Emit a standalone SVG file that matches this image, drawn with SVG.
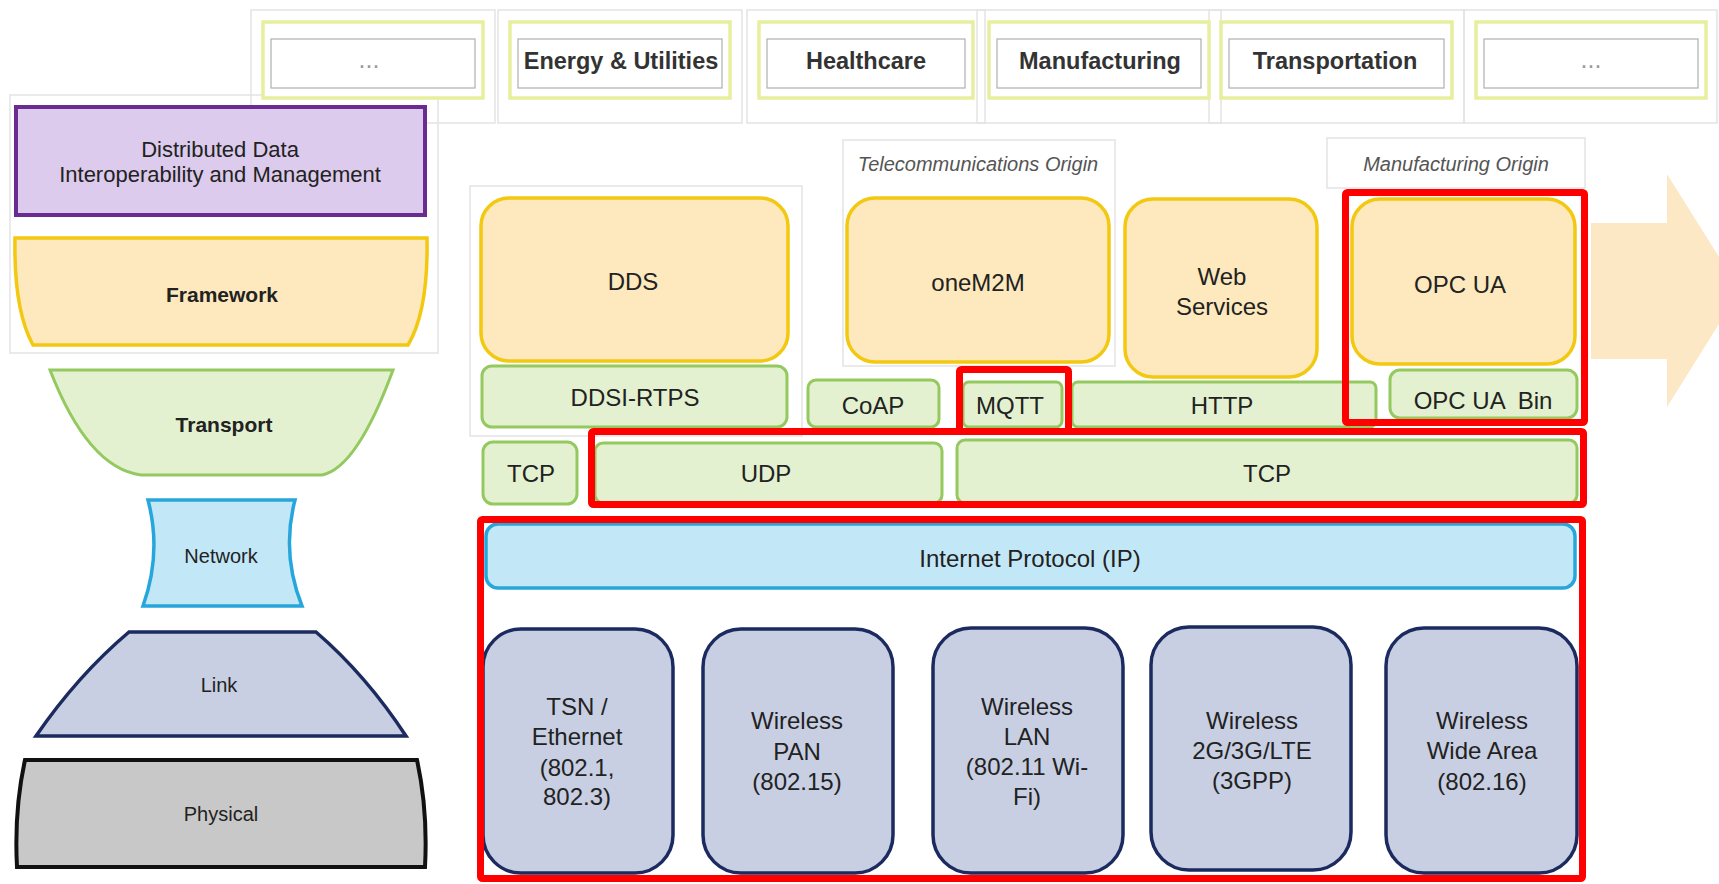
<svg xmlns="http://www.w3.org/2000/svg" width="1719" height="884" viewBox="0 0 1719 884">
  <defs>
    <style>
      text { font-family: "Liberation Sans", Arial, sans-serif; fill: #222222; text-anchor: middle; }
      .frame { fill: none; stroke: #e3e3e3; stroke-width: 1.5; }
      .ind-outer { fill: #ffffff; stroke: #e7ee9e; stroke-width: 3.5; }
      .ind-inner { fill: #ffffff; stroke: #b0b0b0; stroke-width: 1.2; }
      .ind-text { font-size: 23.5px; font-weight: bold; fill: #333333; }
      .dots { font-size: 25px; fill: #9a9a9a; }
      .fw { fill: #fde9bd; stroke: #f2c811; stroke-width: 3.5; }
      .tp { fill: #e3f1d0; stroke: #93c95e; stroke-width: 3; }
      .ip { fill: #c2e8f8; stroke: #27a6dc; stroke-width: 3.5; }
      .lk { fill: #c8cfe3; stroke: #1c2b5f; stroke-width: 3.5; }
      .lbl { font-size: 24px; }
      .sm { font-size: 22px; }
      .origin { font-size: 20px; font-style: italic; fill: #555555; }
      .hl { fill: none; stroke: #ff0000; stroke-width: 7; }
    </style>
  </defs>

  <rect width="1719" height="884" fill="#ffffff"/>

  <!-- faint grouping outlines -->
  <g id="outlines">
    <rect class="frame" x="251" y="10" width="244" height="113"/>
    <rect class="frame" x="498" y="10" width="244" height="113"/>
    <rect class="frame" x="747" y="10" width="238" height="113"/>
    <rect class="frame" x="977" y="10" width="244" height="113"/>
    <rect class="frame" x="1209" y="10" width="255" height="113"/>
    <rect class="frame" x="1464" y="10" width="253" height="113"/>
    <rect class="frame" x="10" y="95" width="428" height="258"/>
    <rect class="frame" x="470" y="186" width="332" height="250"/>
    <rect class="frame" x="843" y="140" width="272" height="226"/>
    <rect class="frame" x="1327" y="138" width="258" height="50"/>
  </g>

  <!-- industry verticals -->
  <g id="industries">
    <g id="ind-more-left">
      <rect class="ind-outer" x="263" y="22" width="220" height="76"/>
      <rect class="ind-inner" x="271" y="39" width="204" height="49"/>
      <text class="dots" x="369" y="68">...</text>
    </g>
    <g id="ind-energy">
      <rect class="ind-outer" x="510" y="22" width="220" height="76"/>
      <rect class="ind-inner" x="518" y="39" width="204" height="49"/>
      <text class="ind-text" x="621" y="69">Energy &amp; Utilities</text>
    </g>
    <g id="ind-healthcare">
      <rect class="ind-outer" x="759" y="22" width="214" height="76"/>
      <rect class="ind-inner" x="767" y="39" width="198" height="49"/>
      <text class="ind-text" x="866" y="69">Healthcare</text>
    </g>
    <g id="ind-manufacturing">
      <rect class="ind-outer" x="989" y="22" width="220" height="76"/>
      <rect class="ind-inner" x="997" y="39" width="204" height="49"/>
      <text class="ind-text" x="1100" y="69">Manufacturing</text>
    </g>
    <g id="ind-transportation">
      <rect class="ind-outer" x="1221" y="22" width="231" height="76"/>
      <rect class="ind-inner" x="1229" y="39" width="215" height="49"/>
      <text class="ind-text" x="1335" y="69">Transportation</text>
    </g>
    <g id="ind-more-right">
      <rect class="ind-outer" x="1476" y="22" width="230" height="76"/>
      <rect class="ind-inner" x="1484" y="39" width="214" height="49"/>
      <text class="dots" x="1591" y="68">...</text>
    </g>
  </g>

  <!-- generic layer stack (left) -->
  <g id="layer-dist-data">
    <rect x="16" y="107" width="409" height="108" fill="#dccbec" stroke="#6b2c91" stroke-width="4"/>
    <text class="sm" x="220" y="157">Distributed Data</text>
    <text class="sm" x="220" y="182">Interoperability and Management</text>
  </g>
  <g id="layer-framework">
    <path class="fw" d="M15,238 H427 C428,290 420,325 408,345 H33 C22,325 14,290 15,238 Z" stroke-width="4"/>
    <text x="222" y="302" font-size="21" font-weight="bold">Framework</text>
  </g>
  <g id="layer-transport">
    <path class="tp" d="M50,370 H393 Q357,468 322,475 H141 Q88,468 50,370 Z"/>
    <text x="224" y="432" font-size="21" font-weight="bold">Transport</text>
  </g>
  <g id="layer-network">
    <path class="ip" d="M148,500 H295 Q281,553 302,606 H143 Q162,553 148,500 Z"/>
    <text x="221" y="563" font-size="20">Network</text>
  </g>
  <g id="layer-link">
    <path class="lk" d="M129,632 H316 Q366,675 406,736 H36 Q78,675 129,632 Z"/>
    <text x="219" y="692" font-size="20">Link</text>
  </g>
  <g id="layer-physical">
    <path d="M25,760 H417 Q428,810 425,867 H17 Q14,810 25,760 Z" fill="#c8c8c8" stroke="#111111" stroke-width="4"/>
    <text x="221" y="821" font-size="20">Physical</text>
  </g>

  <!-- origin captions -->
  <g id="caption-telecom">
    <text class="origin" x="978" y="171">Telecommunications Origin</text>
  </g>
  <g id="caption-manufacturing">
    <text class="origin" x="1456" y="171">Manufacturing Origin</text>
  </g>

  <!-- framework standards -->
  <g id="dds">
    <rect class="fw" x="481" y="198" width="307" height="163" rx="28"/>
    <text class="lbl" x="633" y="290">DDS</text>
  </g>
  <g id="onem2m">
    <rect class="fw" x="847" y="198" width="262" height="164" rx="28"/>
    <text class="lbl" x="978" y="291">oneM2M</text>
  </g>
  <g id="web-services">
    <rect class="fw" x="1125" y="199" width="192" height="178" rx="28"/>
    <text class="lbl" x="1222" y="285">Web</text>
    <text class="lbl" x="1222" y="315">Services</text>
  </g>
  <g id="opc-ua">
    <rect class="fw" x="1352" y="199" width="223" height="165" rx="28"/>
    <text class="lbl" x="1460" y="293">OPC UA</text>
  </g>

  <!-- messaging protocols -->
  <g id="ddsi-rtps">
    <rect class="tp" x="482" y="366" width="305" height="61" rx="10"/>
    <text class="lbl" x="635" y="406">DDSI-RTPS</text>
  </g>
  <g id="coap">
    <rect class="tp" x="808" y="380" width="131" height="47" rx="8"/>
    <text class="lbl" x="873" y="414">CoAP</text>
  </g>
  <g id="http">
    <rect class="tp" x="1072" y="382" width="304" height="45" rx="6"/>
    <text class="lbl" x="1222" y="414">HTTP</text>
  </g>
  <g id="mqtt">
    <rect class="tp" x="963" y="382" width="99" height="45" rx="6"/>
    <text class="lbl" x="1010" y="414">MQTT</text>
  </g>
  <g id="opc-ua-bin">
    <rect class="tp" x="1390" y="370" width="187" height="48" rx="10"/>
    <text class="lbl" x="1483" y="409" xml:space="preserve">OPC UA  Bin</text>
  </g>

  <!-- transport protocols -->
  <g id="tcp-dds">
    <rect class="tp" x="483" y="442" width="94" height="62" rx="10"/>
    <text class="lbl" x="531" y="482">TCP</text>
  </g>
  <g id="udp">
    <rect class="tp" x="595" y="443" width="347" height="60" rx="8"/>
    <text class="lbl" x="766" y="482">UDP</text>
  </g>
  <g id="tcp">
    <rect class="tp" x="957" y="440" width="620" height="63" rx="8"/>
    <text class="lbl" x="1267" y="482">TCP</text>
  </g>

  <!-- network -->
  <g id="internet-protocol">
    <rect class="ip" x="486" y="524" width="1089" height="64" rx="12"/>
    <text class="lbl" x="1030" y="567">Internet Protocol (IP)</text>
  </g>

  <!-- link technologies -->
  <g id="tsn-ethernet">
    <rect class="lk" x="483" y="629" width="190" height="244" rx="38"/>
    <text class="lbl" x="577" y="715">TSN /</text>
    <text class="lbl" x="577" y="745">Ethernet</text>
    <text class="lbl" x="577" y="776">(802.1,</text>
    <text class="lbl" x="577" y="805">802.3)</text>
  </g>
  <g id="wireless-pan">
    <rect class="lk" x="703" y="629" width="190" height="244" rx="38"/>
    <text class="lbl" x="797" y="729">Wireless</text>
    <text class="lbl" x="797" y="760">PAN</text>
    <text class="lbl" x="797" y="790">(802.15)</text>
  </g>
  <g id="wireless-lan">
    <rect class="lk" x="933" y="628" width="190" height="245" rx="38"/>
    <text class="lbl" x="1027" y="715">Wireless</text>
    <text class="lbl" x="1027" y="745">LAN</text>
    <text class="lbl" x="1027" y="775">(802.11 Wi-</text>
    <text class="lbl" x="1027" y="805">Fi)</text>
  </g>
  <g id="wireless-cellular">
    <rect class="lk" x="1151" y="627" width="200" height="243" rx="38"/>
    <text class="lbl" x="1252" y="729">Wireless</text>
    <text class="lbl" x="1252" y="759">2G/3G/LTE</text>
    <text class="lbl" x="1252" y="789">(3GPP)</text>
  </g>
  <g id="wireless-wan">
    <rect class="lk" x="1386" y="628" width="191" height="245" rx="38"/>
    <text class="lbl" x="1482" y="729">Wireless</text>
    <text class="lbl" x="1482" y="759">Wide Area</text>
    <text class="lbl" x="1482" y="790">(802.16)</text>
  </g>

  <!-- highlight outlines -->
  <g id="highlights">
    <rect class="hl" x="1345.5" y="192.5" width="239" height="230" rx="2"/>
    <rect class="hl" x="959.5" y="369.5" width="109" height="62" rx="2"/>
    <rect class="hl" x="591.5" y="431.5" width="992" height="73" rx="2"/>
    <rect class="hl" x="480.5" y="519.5" width="1102" height="359" rx="2"/>
  </g>

  <!-- block arrow -->
  <g id="connectors">
    <polygon points="1591,223 1667,223 1667,174 1740,290.5 1667,407 1667,359 1591,359" fill="#fde8c6"/>
  </g>
</svg>
